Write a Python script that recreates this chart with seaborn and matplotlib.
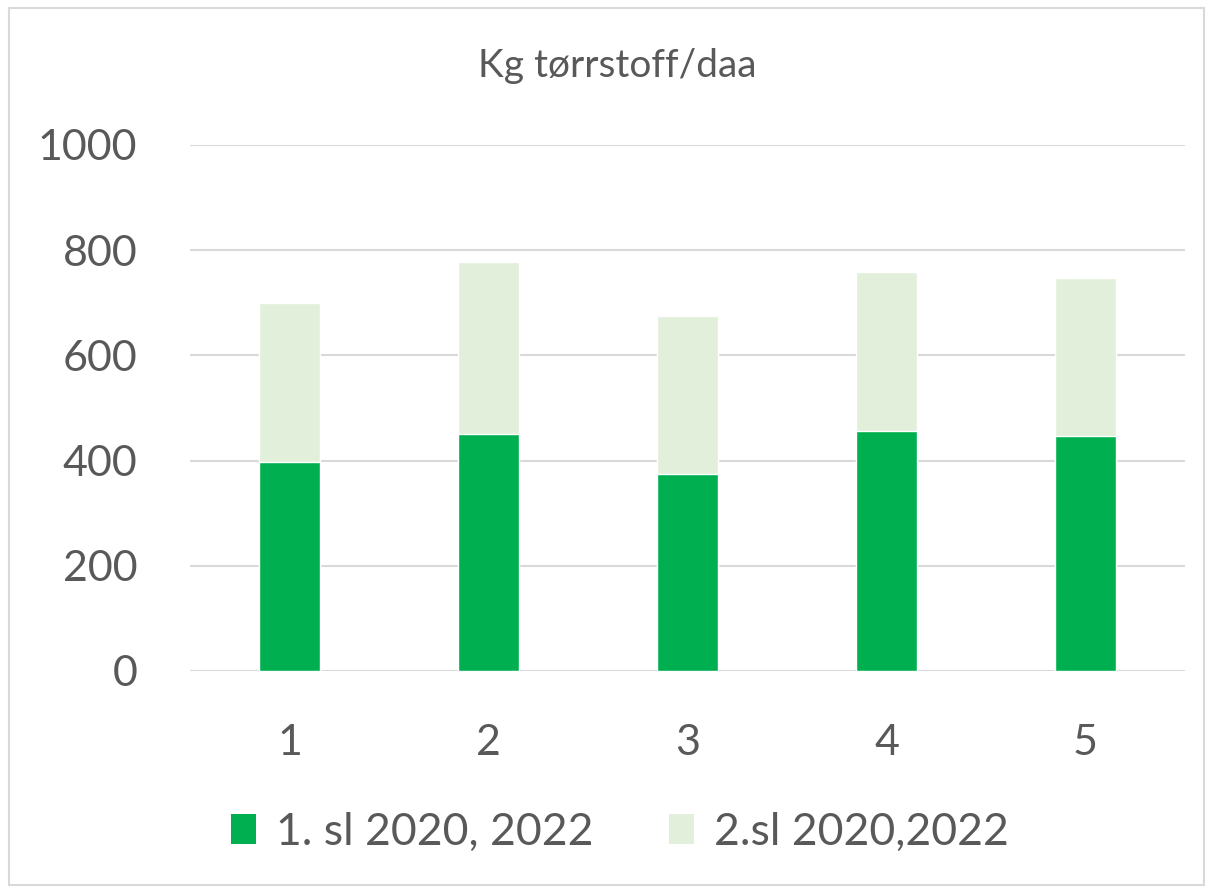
import matplotlib
matplotlib.use("Agg")
import matplotlib.pyplot as plt
import seaborn as sns
import pandas as pd
import numpy as np
from matplotlib.patches import Rectangle, Patch

categories = ["1", "2", "3", "4", "5"]
first_cut = [397, 451, 375, 456, 446]      # 1. sl 2020, 2022
second_cut = [303, 327, 300, 302, 302]     # 2.sl 2020,2022
series_names = ["1. sl 2020, 2022", "2.sl 2020,2022"]
title = "Kg tørrstoff/daa"
yticks = [0, 200, 400, 600, 800, 1000]

dark = "#00B050"
light = "#E2EFDA"
textc = "#595959"

sns.set_theme(style="white")
plt.rcParams["font.family"] = ["Lato", "DejaVu Sans"]

df = pd.DataFrame({
    "cat": categories,
    "first": first_cut,
    "total": np.array(first_cut) + np.array(second_cut),
})

fig = plt.figure(figsize=(12.11, 8.92), dpi=100)
ax = fig.add_axes([190/1211, 1 - 671/892, (1185-190)/1211, (671-145)/892])

sns.barplot(data=df, x="cat", y="total", color=light, width=0.31,
            saturation=1, ax=ax, zorder=2)
sns.barplot(data=df, x="cat", y="first", color=dark, width=0.31,
            saturation=1, ax=ax, zorder=3)

ax.set_ylim(0, 1000)
ax.set_xlim(-0.5, 4.5)
ax.set_yticks(yticks)
ax.set_yticklabels([str(v) for v in yticks])
ax.set_xlabel("")
ax.set_ylabel("")
ax.grid(axis="y", color="#D9D9D9", linewidth=1.5, zorder=0)
ax.set_axisbelow(True)
for s in ax.spines.values():
    s.set_visible(False)
ax.tick_params(axis="y", length=0, pad=38, labelsize=31, labelcolor=textc)
ax.tick_params(axis="x", length=0, pad=38, labelsize=31, labelcolor=textc)

fig.text(617/1211, 1 - 66/892, title, ha="center", va="center",
         fontsize=28, color=textc)

handles = [Patch(facecolor=dark, edgecolor="none"),
           Patch(facecolor=light, edgecolor="none")]
fig.legend(handles, series_names, loc="center", ncol=2,
           bbox_to_anchor=(620/1211, 1 - 832/892), frameon=False,
           fontsize=32, labelcolor=textc, handlelength=0.56,
           handleheight=0.68, handletextpad=0.45, columnspacing=1.7)

fig.patches.append(Rectangle((9/1211, 1 - 885/892), 1195/1211, 877/892,
                             transform=fig.transFigure, fill=False,
                             edgecolor="#D9D9D9", linewidth=1.5))

fig.savefig("out.png", dpi=100, facecolor="white")
